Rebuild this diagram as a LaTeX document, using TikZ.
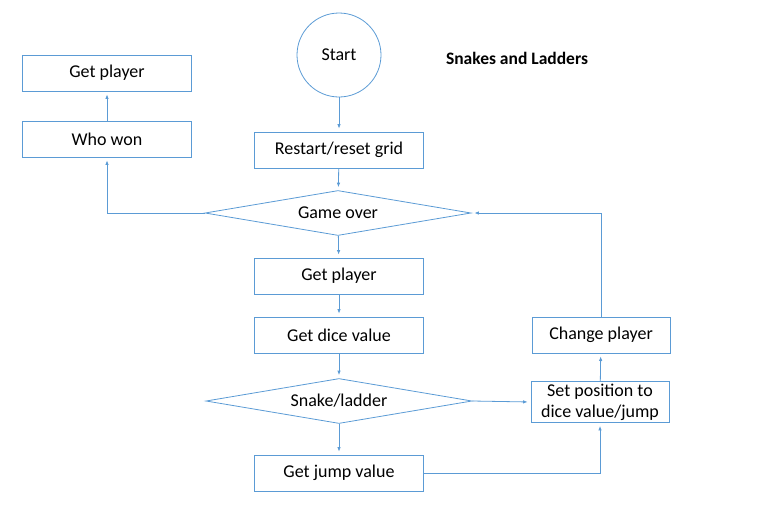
\documentclass[tikz,border=0pt]{standalone}
\usepackage{fontspec}
\setmainfont{Carlito}
\usetikzlibrary{shapes.geometric,arrows.meta}
\definecolor{flowblue}{HTML}{5B9BD5}
\begin{document}
\begin{tikzpicture}[x=1pt,y=-1pt,font=\fontsize{18}{21}\selectfont,
        box/.style={draw=flowblue,line width=0.8pt,minimum width=169pt,minimum height=36pt,inner sep=2pt},
        decision/.style={draw=flowblue,line width=0.8pt,diamond,aspect=6,inner sep=0pt,minimum width=266pt,minimum height=45pt},
        flow/.style={draw=flowblue,line width=0.8pt,-{Latex[length=4.5pt,width=3.5pt]},shorten >=3pt}]
                \useasboundingbox (0,0) rectangle (762,520);
                \node[draw=flowblue,line width=0.8pt,circle,minimum size=84pt,inner sep=0pt] (start) at (339,55) {Start}; %start
                \node[font=\fontsize{17.5}{20}\selectfont\bfseries] (title) at (517,58) {Snakes and Ladders}; %title

                \node[box] (winner) at (107,73) {Get player}; %winner
                \node[box] (won) at (107,139) {Who won}; %won

                \node[box] (reset) at (339,150) {Restart/reset grid}; %reset
                \node[decision] (over) at (338,213) {Game over}; %over
                \node[box] (player) at (339,276) {Get player}; %player
                \node[box] (dice) at (339,335) {Get dice value}; %dice
                \node[decision] (snake) at (339,401) {Snake/ladder}; %snake
                \node[box] (jump) at (339,473) {Get jump value}; %jump

                \node[box,minimum width=138pt] (change) at (601,335) {Change player}; %change
                \node[box,minimum width=138pt,minimum height=41pt,inner sep=1pt,align=center] (setpos) at (600,402) {Set position to\\dice value/jump}; %setpos

                \draw[flow] (start) -- (reset);
                \draw[flow] (reset) -- (over);
                \draw[flow] (over.west) -| (won.south);
                \draw[flow] (won) -- (winner);
                \draw[flow] (over) -- (player);
                \draw[flow] (player) -- (dice);
                \draw[flow] (dice) -- (snake);
                \draw[flow] (snake) -- (jump);
                \draw[flow] (snake.east) -- (setpos.west);
                \draw[flow] (jump.east) -| (setpos.south);
                \draw[flow] (setpos) -- (change);
                \draw[flow] (change.north) |- (over.east);
            \end{tikzpicture}
\end{document}
